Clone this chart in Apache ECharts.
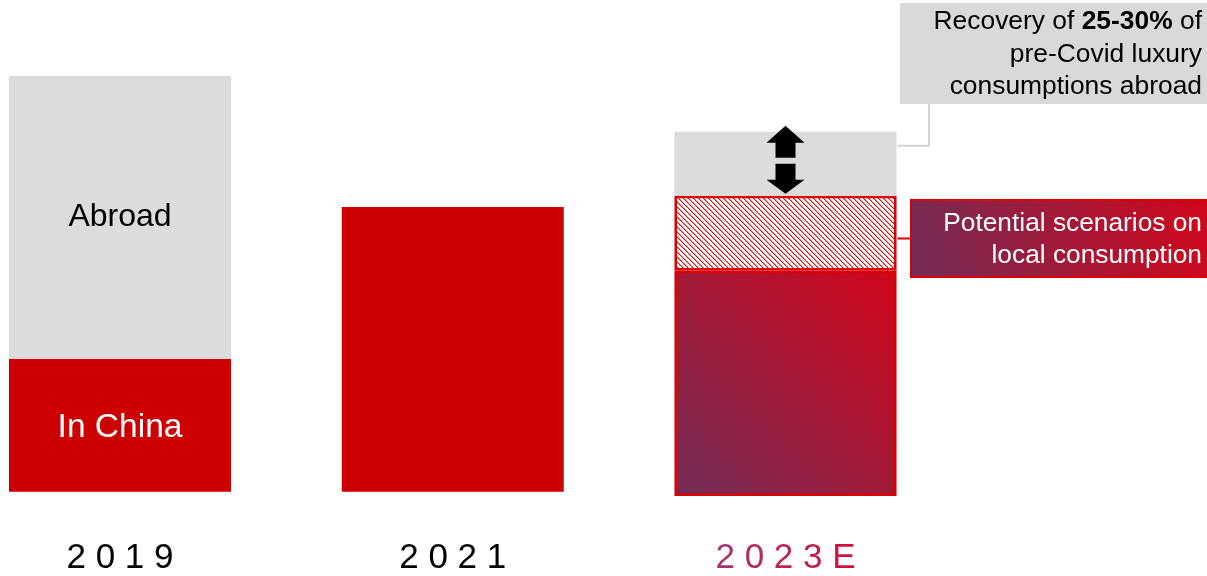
<!DOCTYPE html>
<html>
<head>
<meta charset="utf-8">
<script src="https://cdn.jsdelivr.net/npm/echarts@6/dist/echarts.min.js"></script>
<style>
  html, body { margin: 0; padding: 0; background: #fff; }
  #chart { width: 1207px; height: 576px; }
</style>
</head>
<body>
<div id="chart"></div>
<script>
// Luxury consumption of Chinese consumers: in China vs abroad
const categories = ['2019', '2021', '2023E'];

// Historical years (index relative to 2019 total = 100)
const inChina = [32, 68.5, null];
const abroad  = [68, null, null];

// 2023E estimate
const localBase      = [null, null, 54.2];
const localScenarios = [null, null, 18];
const abroadRecovery = [null, null, 15.4];

const FONT = "'Liberation Sans', Arial, sans-serif";
const RED = '#cc0000';
const BORDER_RED = '#dd0000';
const GREY = '#dcdcdc';
const PURPLE = '#722c57';

// diagonal red hatch used for the scenario band
function hatchCanvas() {
  const c = document.createElement('canvas');
  c.width = c.height = 5;
  const g = c.getContext('2d');
  g.fillStyle = '#ffffff';
  g.fillRect(0, 0, 5, 5);
  g.fillStyle = '#e00000';
  for (let i = 0; i < 5; i++) {
    g.fillRect(i, i, 1, 1);
  }
  g.fillStyle = 'rgba(224,0,0,0.35)';
  for (let i = 0; i < 5; i++) {
    g.fillRect((i + 1) % 5, i, 1, 1);
  }
  return c;
}

const purpleRed = () => new echarts.graphic.LinearGradient(0, 1, 1, 0, [
  { offset: 0, color: PURPLE },
  { offset: 1, color: '#d2061a' }
]);

const estColors = ['#a8346e', '#b02c62', '#ba2455', '#c31c48', '#cc143c'];

const chart = echarts.init(document.getElementById('chart'), null, { renderer: 'canvas' });

const insideName = p => (p.dataIndex === 0 ? p.seriesName : '');

chart.setOption({
  animation: false,
  grid: { left: 120, right: 421.5, top: 76, bottom: 79 },
  xAxis: {
    type: 'category',
    data: categories,
    boundaryGap: false,
    axisLine: { show: false, onZero: false },
    axisTick: { show: false },
    splitLine: { show: false },
    axisLabel: {
      interval: 0,
      hideOverlap: false,
      margin: 45,
      fontSize: 35,
      fontFamily: FONT,
      color: '#000',
      formatter: v => {
        const chars = v.split('');
        if (v.endsWith('E')) {
          return chars.map((ch, i) => '{c' + i + '|' + ch + '}').join(' ');
        }
        return chars.join(' ');
      },
      rich: Object.fromEntries(estColors.map((c, i) => ['c' + i, { color: c, fontSize: 35, fontFamily: FONT }]))
    }
  },
  yAxis: [
    { type: 'value', min: -1, max: 100, show: false, splitLine: { show: false } },
    { type: 'value', min: 0, max: 101, show: false, splitLine: { show: false } }
  ],
  series: [
    {
      name: 'In China', type: 'bar', stack: 'hist', yAxisIndex: 0, barWidth: 222,
      data: inChina,
      itemStyle: { color: RED },
      label: { show: true, position: 'inside', offset: [0, 2], formatter: insideName, color: '#fff', fontSize: 33.5, fontFamily: FONT }
    },
    {
      name: 'Abroad', type: 'bar', stack: 'hist', yAxisIndex: 0, barWidth: 222,
      data: abroad,
      itemStyle: { color: GREY },
      label: { show: true, position: 'inside', formatter: insideName, color: '#000', fontSize: 32, fontFamily: FONT }
    },
    {
      name: 'Local consumption', type: 'bar', stack: 'est', yAxisIndex: 1, barWidth: 222, barGap: '-100%',
      data: localBase,
      itemStyle: { color: purpleRed(), borderColor: BORDER_RED, borderWidth: 2.5 }
    },
    {
      name: 'Potential scenarios', type: 'bar', stack: 'est', yAxisIndex: 1, barWidth: 222, barGap: '-100%',
      data: localScenarios,
      itemStyle: { color: { image: hatchCanvas(), repeat: 'repeat' }, borderColor: BORDER_RED, borderWidth: 2.5 }
    },
    {
      name: 'Recovery abroad', type: 'bar', stack: 'est', yAxisIndex: 1, barWidth: 222, barGap: '-100%',
      data: abroadRecovery,
      itemStyle: { color: GREY }
    }
  ]
});

// Annotations anchored to the 2023E column
const estIdx = 2;
const base = localBase[estIdx], scen = localScenarios[estIdx], rec = abroadRecovery[estIdx];
const px = v => chart.convertToPixel({ xAxisIndex: 0, yAxisIndex: 1 }, [estIdx, v]);
const cx = px(0)[0];
const barRight = cx + 112;
const greyTop = px(base + scen + rec)[1];
const greyBottom = px(base + scen)[1];

const upArrow = [
  [cx, greyTop - 6], [cx + 19, greyTop + 11], [cx + 10, greyTop + 11], [cx + 10, greyTop + 26],
  [cx - 10, greyTop + 26], [cx - 10, greyTop + 11], [cx - 19, greyTop + 11]
];
const downArrow = [
  [cx - 10, greyTop + 32], [cx + 10, greyTop + 32], [cx + 10, greyTop + 48], [cx + 19, greyTop + 48],
  [cx, greyBottom - 2], [cx - 19, greyTop + 48], [cx - 10, greyTop + 48]
];

const box1 = { x: 900, y: 3, w: 310, h: 101 };
const box2 = { x: 911, y: 200, w: 300, h: 77 };

chart.setOption({
  graphic: [
    { type: 'polygon', z: 100, shape: { points: upArrow }, style: { fill: '#000' } },
    { type: 'polygon', z: 100, shape: { points: downArrow }, style: { fill: '#000' } },
    // grey callout
    {
      type: 'polyline', z: 90,
      shape: { points: [[929, box1.y + box1.h], [929, greyTop + 14], [barRight, greyTop + 14]] },
      style: { stroke: '#d4d4d4', lineWidth: 2, fill: null }
    },
    { type: 'rect', z: 95, shape: { x: box1.x, y: box1.y, width: box1.w, height: box1.h }, style: { fill: '#d9d9d9' } },
    {
      type: 'text', z: 96,
      style: {
        x: 1202, y: box1.y + box1.h / 2 + 1,
        align: 'right', verticalAlign: 'middle',
        text: '{n|Recovery of }{b|25-30%}{n| of}\n{n|pre-Covid luxury}\n{n|consumptions abroad}',
        rich: {
          n: { fontSize: 26.4, fontFamily: FONT, color: '#000', lineHeight: 32.5 },
          b: { fontSize: 26.4, fontFamily: FONT, color: '#000', fontWeight: 'bold', lineHeight: 32.5 }
        }
      }
    },
    // red callout
    {
      type: 'line', z: 90,
      shape: { x1: barRight, y1: box2.y + box2.h / 2, x2: box2.x, y2: box2.y + box2.h / 2 },
      style: { stroke: BORDER_RED, lineWidth: 2 }
    },
    {
      type: 'rect', z: 95, shape: { x: box2.x, y: box2.y, width: box2.w, height: box2.h },
      style: { fill: purpleRed(), stroke: BORDER_RED, lineWidth: 2 }
    },
    {
      type: 'text', z: 96,
      style: {
        x: 1202, y: box2.y + box2.h / 2 + 1,
        align: 'right', verticalAlign: 'middle',
        text: 'Potential scenarios on\nlocal consumption',
        fontSize: 26.3, fontFamily: FONT, fill: '#fff', lineHeight: 32
      }
    }
  ]
});
</script>
</body>
</html>
